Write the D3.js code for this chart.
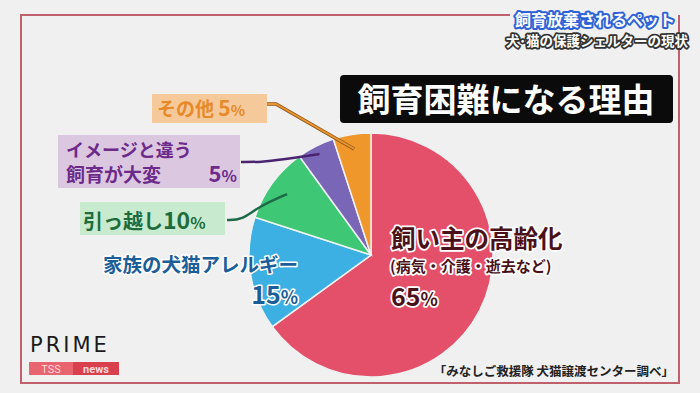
<!DOCTYPE html>
<html><head><meta charset="utf-8">
<script src="https://cdn.jsdelivr.net/npm/d3@7"></script>
<style>
html,body{margin:0;padding:0;background:#f0f0f0;}
svg{display:block;font-family:"Noto Sans CJK JP","Noto Sans",sans-serif;}
</style></head>
<body>
<svg id="c" width="700" height="393"></svg>
<script>
const categories = ["飼い主の高齢化", "家族の犬猫アレルギー", "引っ越し", "イメージと違う飼育が大変", "その他"];
const values = [65, 15, 10, 5, 5];
const sliceColors = ["#e4506a", "#3cb0e2", "#3ec774", "#7a66b6", "#f0972c"];
const title = "飼育困難になる理由";
const headerLine1 = "飼育放棄されるペット";
const headerLine2 = "犬･猫の保護シェルターの現状";
const sourceText = "「みなしご救援隊 犬猫譲渡センター調べ」";

const svg = d3.select("#c");
svg.append("rect").attr("width",700).attr("height",393).attr("fill","#f0f0f0");

// frame
svg.append("path").attr("d","M510,15 H21 V383 H679 V15")
  .attr("fill","none").attr("stroke","#c0606c").attr("stroke-width",2);

// pie
const cx = 371, cy = 255, r = 122;
const pie = d3.pie().sort(null).value(d => d.v);
const data = categories.map((c,i)=>({c, v: values[i], col: sliceColors[i]}));
const arcs = pie(data);
const arc = d3.arc().innerRadius(0).outerRadius(r);
const g = svg.append("g").attr("transform",`translate(${cx},${cy})`);
g.selectAll("path").data(arcs).join("path")
  .attr("d", arc).attr("fill", d=>d.data.col)
  .attr("stroke","#eef2f2").attr("stroke-width",1.5);

function inner(i, f){
  const a = (arcs[i].startAngle + arcs[i].endAngle)/2;
  return [cx + Math.sin(a)*r*f, cy - Math.cos(a)*r*f];
}
const straight = d3.line();
const curved = d3.line().curve(d3.curveBasis);
// orange leader
{
  const pts = [[267,104],[276,104],inner(4, 0.88)];
  svg.append("path").attr("d", straight(pts)).attr("fill","none").attr("stroke","#8a5418").attr("stroke-width",3.5);
  svg.append("path").attr("d", straight(pts)).attr("fill","none").attr("stroke","#e8932e").attr("stroke-width",2);
}
// purple leader
svg.append("path").attr("d", curved([[241,162],[262,162],[280,160],inner(3, 0.93)]))
  .attr("fill","none").attr("stroke","#4a2470").attr("stroke-width",2.5);
// green leader
svg.append("path").attr("d", curved([[227,220],[242,220],[258,207],inner(2, 0.85)]))
  .attr("fill","none").attr("stroke","#1c6a48").attr("stroke-width",2.5);

function pct(sel, num, size, pctSize){
  sel.append("tspan").text(num).attr("font-size",size);
  sel.append("tspan").text("%").attr("font-size",pctSize);
}

// orange label box
svg.append("rect").attr("x",152).attr("y",94).attr("width",115).attr("height",29).attr("fill","#f6c99a");
{
  const t = svg.append("text").attr("x",157).attr("y",116).attr("fill","#e8892a").attr("font-weight","bold").attr("font-size",19);
  t.append("tspan").text(categories[4] + " ");
  pct(t, values[4], 21, 15);
}
// purple label box
svg.append("rect").attr("x",58).attr("y",135).attr("width",182).attr("height",53).attr("fill","#dcc7e0");
{
  svg.append("text").attr("x",66).attr("y",157).attr("fill","#6c2a8a").attr("font-weight","bold").attr("font-size",18)
    .text(categories[3].slice(0,7));
  svg.append("text").attr("x",66).attr("y",182).attr("fill","#6c2a8a").attr("font-weight","bold").attr("font-size",19)
    .text(categories[3].slice(7));
  const t = svg.append("text").attr("x",237).attr("y",182).attr("text-anchor","end").attr("fill","#6c2a8a").attr("font-weight","bold");
  pct(t, values[3], 22, 16);
}
// green label box
svg.append("rect").attr("x",80).attr("y",202).attr("width",145).attr("height",33).attr("fill","#c8ebd0");
{
  const t = svg.append("text").attr("x",83).attr("y",229).attr("fill","#1e6c3c").attr("font-weight","bold").attr("font-size",20);
  t.append("tspan").text(categories[2]);
  pct(t, values[2], 23, 16);
}
// blue label
{
  const outl = s => s.attr("fill","#1b5e98").attr("stroke","#ffffff").attr("stroke-width",3)
    .attr("paint-order","stroke").attr("stroke-linejoin","round").attr("font-weight","bold");
  outl(svg.append("text").attr("x",298).attr("y",272).attr("text-anchor","end").attr("font-size",19.5)).text(categories[1]);
  const t = outl(svg.append("text").attr("x",298).attr("y",304).attr("text-anchor","end"));
  pct(t, values[1], 25, 18);
}
// red label
{
  const common = s => s.attr("fill","#4a1218").attr("stroke","#ffffff").attr("stroke-width",3.5)
    .attr("paint-order","stroke").attr("stroke-linejoin","round").attr("font-weight","bold");
  common(svg.append("text").attr("x",391).attr("y",248).attr("font-size",24.5)).text(categories[0]);
  common(svg.append("text").attr("x",390).attr("y",272).attr("font-size",15)).text("(病気・介護・逝去など)");
  const t = common(svg.append("text").attr("x",391).attr("y",306));
  pct(t, values[0], 25, 18);
}

// title box
svg.append("rect").attr("x",340).attr("y",75).attr("width",333).attr("height",48).attr("rx",4).attr("fill","#0b0b0b");
svg.append("text").attr("x",506).attr("y",112).attr("text-anchor","middle").attr("fill","#ffffff")
  .attr("font-size",33).attr("font-weight","bold").text(title);

// header
svg.append("text").attr("x",595).attr("y",26).attr("text-anchor","middle").attr("font-size",16).attr("font-weight","bold")
  .attr("fill","#ffffff").attr("stroke","#2e63d8").attr("stroke-width",4).attr("paint-order","stroke").attr("stroke-linejoin","round")
  .text(headerLine1);
svg.append("text").attr("x",597).attr("y",46).attr("text-anchor","middle").attr("font-size",13.5).attr("font-weight","bold")
  .attr("fill","#ffffff").attr("stroke","#333333").attr("stroke-width",3.5).attr("paint-order","stroke").attr("stroke-linejoin","round")
  .text(headerLine2);

// logo
svg.append("text").attr("x",30).attr("y",352).attr("font-family","DejaVu Sans, sans-serif").attr("font-size",21)
  .attr("letter-spacing",3).attr("fill","#1a1a1a").text("PRIME");
svg.append("rect").attr("x",29).attr("y",362).attr("width",45).attr("height",13).attr("fill","#e8646e");
svg.append("rect").attr("x",73).attr("y",362).attr("width",46).attr("height",13).attr("fill","#d8404e");
svg.append("text").attr("x",51).attr("y",373).attr("text-anchor","middle").attr("font-family","Roboto, sans-serif")
  .attr("font-size",11).attr("fill","#ffd8dc").text("TSS");
svg.append("text").attr("x",96).attr("y",373).attr("text-anchor","middle").attr("font-family","Roboto, sans-serif")
  .attr("font-size",11).attr("font-weight","bold").attr("fill","#ffd8dc").text("news");

// source
svg.append("text").attr("x",674).attr("y",376).attr("text-anchor","end").attr("font-size",12.5).attr("font-weight","bold")
  .attr("fill","#222222").text(sourceText);
</script>
</body></html>
